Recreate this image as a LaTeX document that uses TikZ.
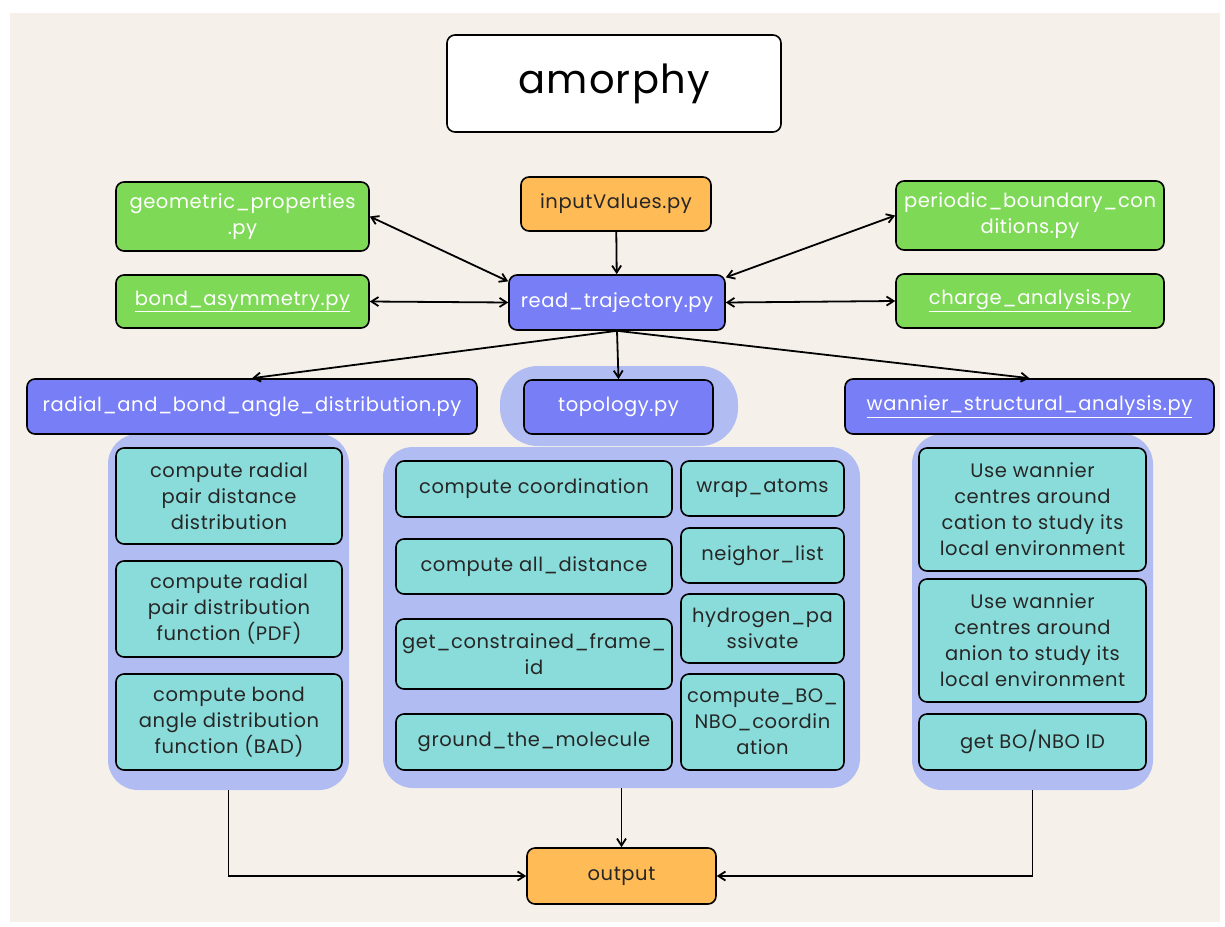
\documentclass[tikz,border=0pt]{standalone}
\usepackage{fontspec}
\setmainfont{Poppins}[LetterSpace=3]
\usepackage{tikz}
\usetikzlibrary{arrows.meta}
\definecolor{bgbeige}{HTML}{F5F1EA}
\definecolor{pygreen}{HTML}{7ED957}
\definecolor{pyblue}{HTML}{787EF5}
\definecolor{pyorange}{HTML}{FFBB55}
\definecolor{pyteal}{HTML}{8ADCDA}
\definecolor{grouplav}{HTML}{B1BCF2}
\newcommand{\boxfont}{\fontsize{19.5}{26}\selectfont}

\tikzset{
  box/.style={draw=black, line width=1.6pt, rounded corners=8pt, align=center, inner sep=2pt, font=\boxfont},
  greenbox/.style={box, fill=pygreen, text=white},
  bluebox/.style={box, fill=pyblue, text=white},
  orangebox/.style={box, fill=pyorange, text=black!85},
  tealbox/.style={box, fill=pyteal, text=black!85},
  group/.style={fill=grouplav, rounded corners=30pt, inner sep=0pt},
}

\begin{document}
\begin{tikzpicture}[x=1pt, y=-1pt]
    \useasboundingbox (0,0) rectangle (1225,926);
    \fill[bgbeige] (10,13) rectangle (1220,922);

    % groups behind the boxes
    \node[group, minimum width=238, minimum height=80, rounded corners=38pt] (g0) at (619,406) {};
    \node[group, minimum width=241, minimum height=356] (g1) at (228.5,612) {};
    \node[group, minimum width=477, minimum height=341] (g2) at (621.5,617.5) {};
    \node[group, minimum width=241, minimum height=356] (g3) at (1032.5,612) {};

    \node[box, fill=white, minimum width=334, minimum height=97, font=\fontsize{40}{48}\selectfont] (1) at (614,83.5) {amorphy};
    \node[orangebox, minimum width=190, minimum height=54] (2) at (616,204) {inputValues.py};
    \node[greenbox, minimum width=253, minimum height=69] (3) at (242.5,216.5) {geometric\_properties\\.py};
    \node[greenbox, minimum width=268, minimum height=69] (4) at (1030,215.5) {periodic\_boundary\_con\\ditions.py};
    \node[greenbox, minimum width=253, minimum height=53] (5) at (242.5,301.5) {\underline{bond\_asymmetry.py}};
    \node[greenbox, minimum width=268, minimum height=54] (6) at (1030,301) {\underline{charge\_analysis.py}};
    \node[bluebox, minimum width=216, minimum height=55] (7) at (617,302.5) {read\_trajectory.py};

    \node[bluebox, minimum width=450, minimum height=55] (8) at (252,406.5) {radial\_and\_bond\_angle\_distribution.py};
    \node[bluebox, minimum width=189, minimum height=54] (9) at (618.5,407) {topology.py};
    \node[bluebox, minimum width=369, minimum height=55] (10) at (1029.5,406.5) {\underline{wannier\_structural\_analysis.py}};

    % radial and bond angle
    \node[tealbox, minimum width=226, minimum height=96] (11) at (229,496) {compute radial\\pair distance\\distribution};
    \node[tealbox, minimum width=226, minimum height=96] (12) at (229,609) {compute radial\\pair distribution\\function (PDF)};
    \node[tealbox, minimum width=226, minimum height=96] (13) at (229,722) {compute bond\\angle distribution\\function (BAD)};

    % topology
    \node[tealbox, minimum width=276, minimum height=56] (14) at (534,489) {compute coordination};
    \node[tealbox, minimum width=276, minimum height=55] (15) at (534,566.5) {compute all\_distance};
    \node[tealbox, minimum width=276, minimum height=70] (16) at (534,654) {get\_constrained\_frame\_\\id};
    \node[tealbox, minimum width=276, minimum height=56] (17) at (534,742) {ground\_the\_molecule};
    \node[tealbox, minimum width=163, minimum height=55] (18) at (762.5,488.5) {wrap\_atoms};
    \node[tealbox, minimum width=163, minimum height=55] (19) at (762.5,555.5) {neighor\_list};
    \node[tealbox, minimum width=163, minimum height=69] (20) at (762.5,628.5) {hydrogen\_pa\\ssivate};
    \node[tealbox, minimum width=163, minimum height=96] (21) at (762.5,722) {compute\_BO\_\\NBO\_coordin\\ation};

    % wannier
    \node[tealbox, minimum width=227, minimum height=123] (22) at (1032.5,509.5) {Use wannier\\centres around\\cation to study its\\local environment};
    \node[tealbox, minimum width=227, minimum height=123] (23) at (1032.5,640.5) {Use wannier\\centres around\\anion to study its\\local environment};
    \node[tealbox, minimum width=227, minimum height=56] (24) at (1032.5,742) {get BO/NBO ID};

    \node[orangebox, minimum width=189, minimum height=56] (25) at (621.5,876) {output};

    \path[line width=1.8pt, black]
    (2) [-{Straight Barb[length=7pt,width=9pt]}] edge (7)
    (3.east) [{Straight Barb[length=7pt,width=9pt]}-{Straight Barb[length=7pt,width=9pt]}] edge (7.169)
    (5.east) [{Straight Barb[length=7pt,width=9pt]}-{Straight Barb[length=7pt,width=9pt]}] edge (7.west)
    (4.west) [{Straight Barb[length=7pt,width=9pt]}-{Straight Barb[length=7pt,width=9pt]}] edge (7.13)
    (6.west) [{Straight Barb[length=7pt,width=9pt]}-{Straight Barb[length=7pt,width=9pt]}] edge (7.east)
    (7.south) [-{Straight Barb[length=7pt,width=9pt]}] edge (8.north)
    (7.south) [-{Straight Barb[length=7pt,width=9pt]}] edge (9.north)
    (7.south) [-{Straight Barb[length=7pt,width=9pt]}] edge (10.north)
    (g2.south) [-{Straight Barb[length=7pt,width=9pt]}] edge (25.north);

    \draw[line width=1.8pt, -{Straight Barb[length=7pt,width=9pt]}] (g1.south) |- (25.west);
    \draw[line width=1.8pt, -{Straight Barb[length=7pt,width=9pt]}] (g3.south) |- (25.east);
\end{tikzpicture}
\end{document}
